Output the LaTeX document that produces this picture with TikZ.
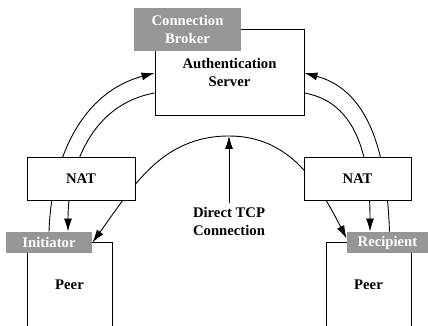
\documentclass[tikz,border=0pt]{standalone}
\usepackage{fontspec}
\setmainfont{Liberation Serif}
\usetikzlibrary{arrows.meta}
\definecolor{tagGray}{RGB}{150,150,150}

\begin{document}
\begin{tikzpicture}[x=1pt, y=1pt, line width=0.9pt, >={Latex[length=13pt, width=8pt]},
		font=\fontsize{14.7}{18}\selectfont\bfseries,
		box/.style={draw, fill=white, align=center, inner sep=0pt},
		tag/.style={fill=tagGray, text=white, align=center, inner sep=0pt}]
		\useasboundingbox (0, 0) rectangle (428, 326);
		\clip (0, 0) rectangle (428, 326);

		\node[box, minimum width=85pt, minimum height=86pt] (peerL) at (69.5, 41) {Peer};
		\node[box, minimum width=85pt, minimum height=86pt] (peerR) at (368.5, 41) {Peer};
		\node[tag, minimum width=86pt, minimum height=21pt] (initiator) at (49, 83.5) {Initiator};
		\node[tag, minimum width=81pt, minimum height=21pt] (recipient) at (387.5, 83.5) {Recipient};
		\node[box, minimum width=149pt, minimum height=86pt] (auth) at (229.5, 254) {Authentication\\Server};
		\node[tag, minimum width=107pt, minimum height=43pt] (broker) at (187.5, 296.5) {Connection\\Broker};
		\node[align=center] (tcp) at (229, 105) {Direct TCP\\Connection};
		\coordinate (top) at (229, 190);

		\draw[->] (tcp) -- (top);
		\draw[<->] (initiator.east) to[out=54, in=180] (top) to[out=0, in=117] ([yshift=4pt]recipient.west);
		\draw[->] (initiator.north) to[out=88, in=195] ([yshift=-1pt]auth.west);
		\draw[->] ([yshift=-21pt]auth.west) to[out=190, in=90] ([xshift=19pt]initiator.north);
		\draw[->] ([xshift=2pt]recipient.north) to[out=92, in=345] ([yshift=-1pt]auth.east);
		\draw[->] ([yshift=-21pt]auth.east) to[out=350, in=90] ([xshift=-17.5pt]recipient.north);

		\node[box, minimum width=108pt, minimum height=43pt] (natL) at (81, 147.5) {NAT};
		\node[box, minimum width=107pt, minimum height=43pt] (natR) at (357.5, 147.5) {NAT};
\end{tikzpicture}
\end{document}
